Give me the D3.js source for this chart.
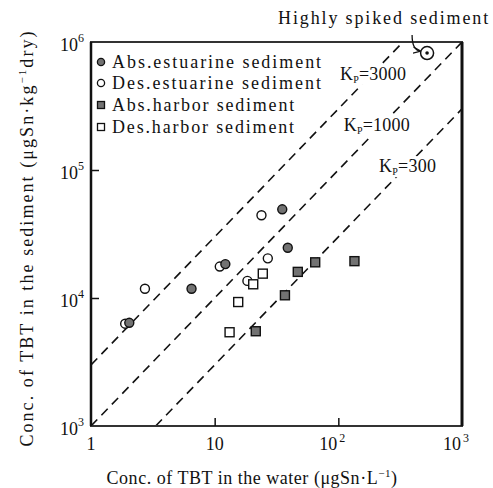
<!DOCTYPE html>
<html lang="en">
<head>
<meta charset="UTF-8">
<title>TBT sediment vs water</title>
<script src="https://d3js.org/d3.v7.min.js"></script>
<style>
  body { margin: 0; background: #fff; }
  text { font-family: "Liberation Serif", "DejaVu Serif", serif; fill: #111; }
</style>
</head>
<body>
<svg id="chart" width="493" height="488"></svg>
<script>
// data (water ug/L, sediment ug/kg)
const seriesNames = ["Abs.estuarine sediment", "Des.estuarine sediment", "Abs.harbor sediment", "Des.harbor sediment"];
const absEstX = [35.2, 39.0, 12.2, 6.5, 2.04];
const absEstY = [49300, 24700, 18400, 11800, 6400];
const desEstX = [23.9, 26.9, 11.0, 18.4, 2.73, 1.89];
const desEstY = [44300, 20400, 17600, 13600, 11800, 6300];
const absHarX = [65, 135, 47, 37, 21.5];
const absHarY = [19000, 19400, 16000, 10500, 5500];
const desHarX = [24.5, 20.5, 15.5, 13.2];
const desHarY = [15500, 12800, 9300, 5400];
const spikedX = [522];
const spikedY = [820000];
const kpValues = [3000, 1000, 300];
const xTicks = [1, 10, 100, 1000];
const yTicks = [1e3, 1e4, 1e5, 1e6];

const svg = d3.select("#chart");
const pl = 91, pr = 462, pt = 42, pb = 426;

const x = d3.scaleLog().domain([1, 1000]).range([pl, pr]);
const y = d3.scaleLog().domain([1e3, 1e6]).range([pb, pt]);

// stretch a text so that its whole width matches the reference
function fit(t, w) {
  const n = t.text().length;
  const cur = t.node().getComputedTextLength();
  t.attr("letter-spacing", ((w - cur) / n).toFixed(2));
  return t;
}

const defs = svg.append("defs");
defs.append("clipPath").attr("id", "plotclip")
  .append("rect").attr("x", pl).attr("y", pt)
  .attr("width", pr - pl).attr("height", pb - pt);

// Kp lines
const kpG = svg.append("g").attr("clip-path", "url(#plotclip)");
kpValues.forEach(kp => {
  const x0 = Math.max(1, 1000 / kp), x1 = Math.min(1000, 1e6 / kp);
  kpG.append("line")
    .attr("x1", x(x0)).attr("y1", y(x0 * kp))
    .attr("x2", x(x1)).attr("y2", y(x1 * kp))
    .attr("stroke", "#111").attr("stroke-width", 1.6)
    .attr("stroke-dasharray", "9,6");
});

// frame
svg.append("rect").attr("x", pl).attr("y", pt)
  .attr("width", pr - pl).attr("height", pb - pt)
  .attr("fill", "none").attr("stroke", "#333").attr("stroke-width", 2);
svg.append("line").attr("x1", pr).attr("x2", pr).attr("y1", pt).attr("y2", pb)
  .attr("stroke", "#111").attr("stroke-width", 3);
svg.append("line").attr("x1", pl).attr("x2", pl).attr("y1", pt).attr("y2", pb)
  .attr("stroke", "#111").attr("stroke-width", 2.5);

// inner ticks
svg.append("g").attr("transform", `translate(0,${pb})`)
  .call(d3.axisBottom(x).tickValues([10, 100]).tickSize(-8).tickFormat(""))
  .call(g => g.select(".domain").remove())
  .selectAll("line").attr("stroke", "#111").attr("stroke-width", 1.5);
svg.append("g").attr("transform", `translate(${pl},0)`)
  .call(d3.axisLeft(y).tickValues([1e4, 1e5]).tickSize(-8).tickFormat(""))
  .call(g => g.select(".domain").remove())
  .selectAll("line").attr("stroke", "#111").attr("stroke-width", 1.5);

// x tick labels
xTicks.forEach(v => {
  const e = Math.round(Math.log10(v));
  if (e < 2) {
    svg.append("text").attr("x", x(v)).attr("y", 450).attr("font-size", 18)
      .attr("text-anchor", "middle").text(e === 0 ? "1" : "10");
  } else {
    const t = svg.append("text").attr("x", x(v) - 10).attr("y", 450).attr("font-size", 18)
      .attr("text-anchor", "middle");
    t.append("tspan").text("10");
    t.append("tspan").attr("x", x(v) + 1).attr("dy", -8).attr("font-size", 12)
      .attr("text-anchor", "start").text(e);
  }
});

// y tick labels
yTicks.forEach(v => {
  const e = Math.round(Math.log10(v));
  const t = svg.append("text").attr("x", 84).attr("y", y(v) + 9)
    .attr("font-size", 18).attr("text-anchor", "end");
  t.append("tspan").text("10");
  t.append("tspan").attr("dy", -9).attr("font-size", 12).text(e);
});

// axis titles
const xt = svg.append("text").attr("x", 252).attr("y", 484).attr("font-size", 18)
  .attr("text-anchor", "middle");
xt.append("tspan").text("Conc. of TBT in the water (\u03bcgSn\u00b7L");
xt.append("tspan").attr("dy", -7).attr("font-size", 11).text("\u22121");
xt.append("tspan").attr("dy", 7).text(")");
fit(xt, 291);

const yt = svg.append("text").attr("transform", "translate(33,238) rotate(-90)")
  .attr("font-size", 18).attr("text-anchor", "middle");
yt.append("tspan").text("Conc. of TBT in the sediment (\u03bcgSn\u00b7kg");
yt.append("tspan").attr("dy", -7).attr("font-size", 11).text("\u22121");
yt.append("tspan").attr("dy", 7).text("dry)");
fit(yt, 417);

// Kp labels, each sitting on its own line with a white patch behind
const kpAnchor = [[5.73e5, 0], [2.29e5, -6], [1.09e5, 0]];
kpValues.forEach((kp, i) => {
  const cy = y(kpAnchor[i][0]);
  const cx = x(kpAnchor[i][0] / kp) + kpAnchor[i][1];
  const g = svg.append("g");
  const t = g.append("text").attr("x", cx).attr("y", cy + 7).attr("font-size", 18)
    .attr("text-anchor", "middle");
  t.append("tspan").text("K");
  t.append("tspan").attr("dy", 3).attr("font-size", 10).text("P");
  t.append("tspan").attr("dy", -3).text("=" + kp);
  fit(t, kp >= 1000 ? 66 : 57);
  const bb = t.node().getBBox();
  g.insert("rect", "text").attr("x", bb.x - 2).attr("y", bb.y).attr("width", bb.width + 4)
    .attr("height", bb.height).attr("fill", "#fff");
});

// markers
const fillGrey = "#727272";
function drawCircles(xs, ys, filled) {
  svg.append("g").selectAll("circle").data(xs.map((d, i) => [d, ys[i]])).join("circle")
    .attr("cx", d => x(d[0])).attr("cy", d => y(d[1])).attr("r", 4.5)
    .attr("fill", filled ? fillGrey : "#fff").attr("stroke", "#111").attr("stroke-width", 1.4);
}
function drawSquares(xs, ys, filled) {
  svg.append("g").selectAll("rect").data(xs.map((d, i) => [d, ys[i]])).join("rect")
    .attr("x", d => x(d[0]) - 4.5).attr("y", d => y(d[1]) - 4.5)
    .attr("width", 9).attr("height", 9)
    .attr("fill", filled ? fillGrey : "#fff").attr("stroke", "#111").attr("stroke-width", 1.4);
}
drawCircles(desEstX, desEstY, false);
drawCircles(absEstX, absEstY, true);
drawSquares(desHarX, desHarY, false);
drawSquares(absHarX, absHarY, true);

// highly spiked point
const sp = svg.append("g");
sp.selectAll("circle.outer").data(spikedX).join("circle").attr("class", "outer")
  .attr("cx", d => x(d)).attr("cy", (d, i) => y(spikedY[i])).attr("r", 6.5)
  .attr("fill", "#fff").attr("stroke", "#111").attr("stroke-width", 1.5);
sp.selectAll("circle.inner").data(spikedX).join("circle").attr("class", "inner")
  .attr("cx", d => x(d)).attr("cy", (d, i) => y(spikedY[i])).attr("r", 1.8)
  .attr("fill", "#111");
const st = svg.append("text").attr("x", 490).attr("y", 24).attr("font-size", 18)
  .attr("text-anchor", "end").text("Highly spiked sediment");
fit(st, 212);
const px = x(spikedX[0]), py = y(spikedY[0]);
defs.append("marker").attr("id", "ah").attr("viewBox", "0 0 10 10")
  .attr("refX", 9).attr("refY", 5).attr("markerWidth", 6).attr("markerHeight", 6)
  .attr("orient", "auto").append("path").attr("d", "M0,1 L10,5 L0,9").attr("fill", "none")
  .attr("stroke", "#111").attr("stroke-width", 1.6);
svg.append("path")
  .attr("d", `M${px - 15},${py - 18} Q${px - 15},${py - 3} ${px - 7},${py - 2}`)
  .attr("fill", "none").attr("stroke", "#111").attr("stroke-width", 1.3)
  .attr("marker-end", "url(#ah)");

// legend
const legY = [68, 89, 111, 133];
const legW = [211, 211, 184, 184];
const leg = svg.append("g");
seriesNames.forEach((name, i) => {
  const cy = legY[i] - 6;
  const filled = i % 2 === 0;
  if (i < 2) {
    leg.append("circle").attr("cx", 101).attr("cy", cy).attr("r", 3.6)
      .attr("fill", filled ? fillGrey : "#fff").attr("stroke", "#111").attr("stroke-width", 1.3);
  } else {
    leg.append("rect").attr("x", 97.5).attr("y", cy - 3.5).attr("width", 7).attr("height", 7)
      .attr("fill", filled ? fillGrey : "#fff").attr("stroke", "#111").attr("stroke-width", 1.3);
  }
  const t = leg.append("text").attr("x", 112).attr("y", legY[i]).attr("font-size", 18).text(name);
  fit(t, legW[i]);
});
</script>
</body>
</html>
